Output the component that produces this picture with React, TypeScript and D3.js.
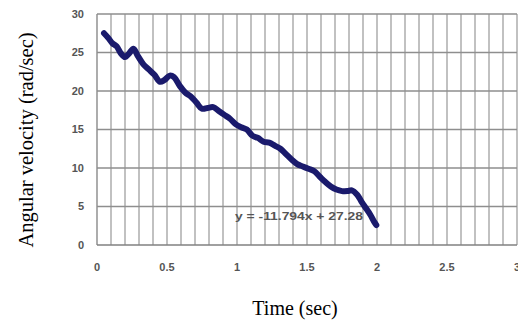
import React from "react";
import * as d3 from "d3";

const timeValues = [0.05,0.08,0.11,0.14,0.17,0.2,0.23,0.26,0.29,0.33,0.37,0.41,0.45,0.48,0.52,0.55,0.59,0.63,0.67,0.71,0.75,0.79,0.83,0.87,0.91,0.95,0.99,1.03,1.07,1.11,1.15,1.19,1.23,1.27,1.31,1.35,1.39,1.43,1.47,1.51,1.55,1.59,1.63,1.67,1.71,1.75,1.79,1.82,1.86,1.89,1.92,1.95,1.98,1.995];
const velocityValues = [27.5,26.9,26.2,25.8,24.9,24.4,24.9,25.5,24.6,23.5,22.8,22.1,21.2,21.4,22.0,21.8,20.7,19.8,19.3,18.5,17.7,17.8,17.9,17.4,16.9,16.4,15.7,15.3,15.0,14.2,13.9,13.4,13.3,12.9,12.5,11.8,11.1,10.5,10.2,9.9,9.6,8.9,8.2,7.6,7.2,7.0,7.0,7.1,6.5,5.6,4.8,4.0,3.0,2.6];
const xTickLabels = ["0", "0.5", "1", "1.5", "2", "2.5", "3"];
const yTickLabels = ["0", "5", "10", "15", "20", "25", "30"];
const equationText = "y = -11.794x + 27.28";
const xTitle = "Time (sec)";
const yTitle = "Angular velocity (rad/sec)";

export default function App() {
  const W = 518, H = 320;
  const x = d3.scaleLinear().domain([0, 3]).range([97, 517]);
  const y = d3.scaleLinear().domain([0, 30]).range([245, 14]);
  const data = timeValues.map((t, i) => [t, velocityValues[i]] as [number, number]);
  const line = d3.line<[number, number]>().x(d => x(d[0])).y(d => y(d[1])).curve(d3.curveCatmullRom);
  const vGrid = d3.range(0, 31).map(k => k / 10);
  const hGrid = d3.range(0, 35, 5);
  const sans = "Liberation Sans, Arial, sans-serif";
  return (
    <svg width={W} height={H} style={{ position: "absolute", left: 0, top: 0, background: "#fff" }}>
      <rect x={0} y={0} width={W} height={H} fill="#fff" />
      {vGrid.map((g, i) => (
        <line key={"v" + i} x1={x(g)} x2={x(g)} y1={y(30)} y2={y(0)} stroke={i === 0 ? "#808080" : "#a0a0a0"} strokeWidth={1.3} />
      ))}
      {hGrid.map((g, i) => (
        <line key={"h" + i} x1={x(0)} x2={x(3)} y1={y(g)} y2={y(g)} stroke={g === 0 ? "#808080" : "#8e8e8e"} strokeWidth={1.3} />
      ))}
      {yTickLabels.map((l, i) => (
        <text key={"yt" + i} x={84} y={y(+l)} dy="0.35em" textAnchor="end" fontFamily={sans} fontSize={11} fontWeight={600} fill="#555">{l}</text>
      ))}
      {xTickLabels.map((l, i) => (
        <text key={"xt" + i} x={x(+l)} y={271} textAnchor="middle" fontFamily={sans} fontSize={11} fontWeight={600} fill="#555">{l}</text>
      ))}
      <path d={line(data) || ""} fill="none" stroke="#1a1a6c" strokeWidth={6} strokeLinejoin="round" strokeLinecap="round" />
      <text x={235} y={220} fontFamily={sans} fontSize={11} fontWeight={600} fill="#555" textLength={128} lengthAdjust="spacingAndGlyphs">{equationText}</text>
      <text x={295} y={315} textAnchor="middle" fontFamily="Liberation Serif, Times New Roman, serif" fontSize={20} fill="#000">{xTitle}</text>
      <text transform={`translate(33,140) rotate(-90)`} textAnchor="middle" fontFamily="Liberation Serif, Times New Roman, serif" fontSize={20.5} fill="#000">{yTitle}</text>
    </svg>
  );
}
